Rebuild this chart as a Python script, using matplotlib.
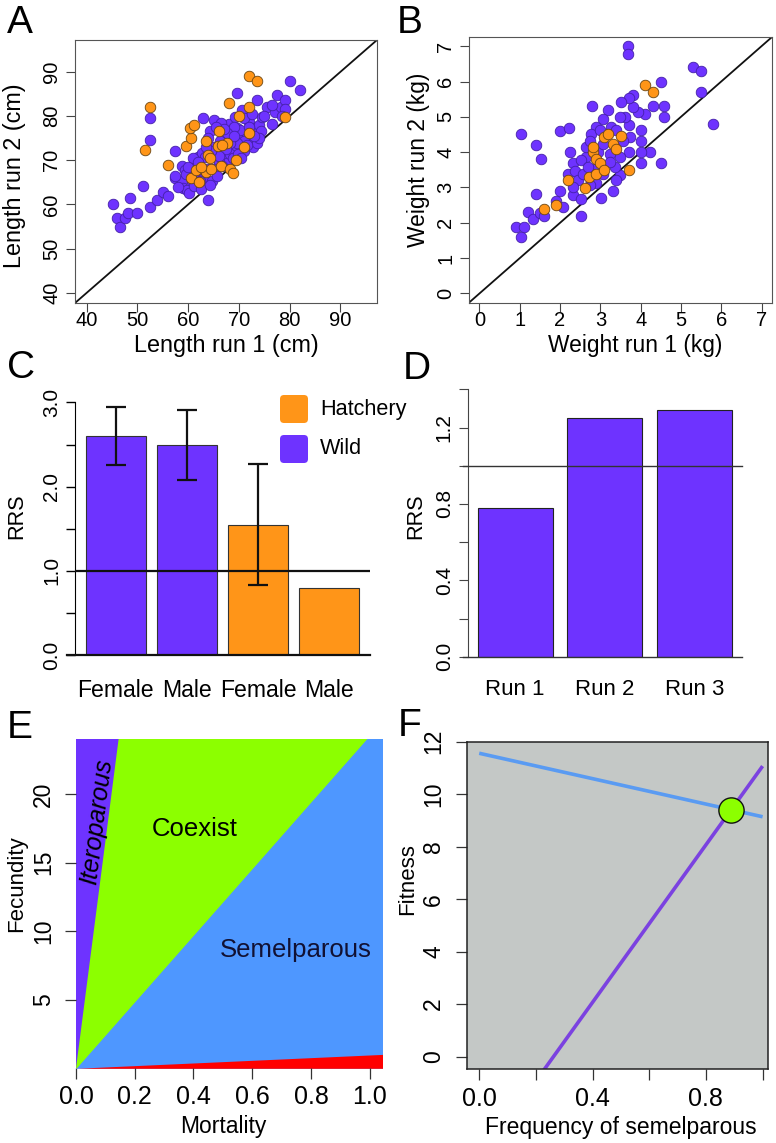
import numpy as np
import matplotlib
matplotlib.use("Agg")
import matplotlib.pyplot as plt
from matplotlib.patches import FancyBboxPatch

plt.rcParams['font.family'] = ['Liberation Sans', 'DejaVu Sans']

# ---- colours ----
PURPLE = '#6E33FF'
PURPLE_EDGE = '#4420A8'
ORANGE = '#FF9518'
ORANGE_EDGE = '#6B4512'
GREEN = '#8CFF00'
BLUE = '#4E97FF'
RED = '#FF0000'
GREY_BG = '#C4C8C6'

# ---- panel A: body length, run 1 vs run 2 (cm) ----
a_wild_x = [45.1, 45.9, 46.6, 47.6, 48.6, 48.2, 50.0, 51.0, 52.5, 52.5, 52.5, 53.9, 55.0, 56.0,
            57.4, 57.4, 58.8, 58.8, 58.9, 59.7, 59.4, 60.7, 61.1, 62.0, 62.7, 63.0, 63.2, 64.0,
            64.7, 65.0, 64.3, 65.0, 65.7, 66.3, 67.0, 67.6, 67.3, 68.0, 68.3, 68.6, 68.9, 69.3,
            69.7, 69.6, 70.3, 70.6, 70.9, 71.6, 71.9, 72.4, 72.8, 73.0, 73.6, 73.6, 73.9, 74.3,
            74.5, 75.5, 76.5, 77.5, 77.2, 78.2, 79.1, 79.1, 80.0, 82.1,
            66.0, 66.6, 68.2, 68.9, 69.9, 70.9, 69.6, 68.3, 70.3, 69.0, 67.6, 66.3, 65.0, 63.7,
            62.4, 61.1, 62.4, 65.7, 63.4, 60.2, 61.2, 59.5, 62.5, 64.2, 66.5, 67.0, 71.0, 72.5,
            74.0, 73.0, 71.5, 70.5, 67.5, 66.0, 64.5, 63.5, 61.0, 60.0, 58.0, 57.5, 62.0, 69.0,
            72.0, 75.0, 76.5, 78.5, 64.0, 65.5]
a_wild_y = [60.2, 56.9, 54.9, 56.9, 61.4, 58.0, 58.0, 64.1, 79.5, 74.6, 59.4, 61.1, 62.9, 62.0,
            72.2, 65.9, 65.2, 68.6, 63.7, 63.3, 67.8, 65.2, 69.3, 70.8, 71.6, 79.5, 66.3, 61.1,
            65.2, 79.1, 76.5, 73.1, 70.8, 72.3, 70.8, 69.3, 75.0, 78.3, 76.5, 74.6, 73.1, 79.8,
            85.1, 77.2, 75.3, 81.4, 72.0, 76.1, 78.7, 74.6, 73.1, 77.2, 83.6, 73.8, 78.0, 76.5,
            79.8, 82.1, 78.3, 84.7, 81.0, 82.1, 83.6, 81.7, 87.9, 85.9,
            69.5, 68.8, 71.3, 70.6, 71.3, 74.4, 73.8, 73.8, 76.8, 77.6, 76.1, 74.4, 68.0, 68.0,
            68.0, 66.5, 65.2, 66.5, 70.8, 62.5, 64.1, 66.8, 63.5, 64.5, 78.5, 77.0, 79.5, 80.5,
            75.0, 75.5, 73.5, 70.5, 72.5, 71.0, 72.0, 73.0, 70.5, 68.5, 64.0, 66.5, 69.5, 75.5,
            77.5, 80.0, 82.5, 80.0, 75.0, 77.5]
a_hat_x = [71.9, 73.6, 52.5, 51.4, 56.1, 59.5, 60.5, 60.3, 61.1, 60.6, 62.2, 61.6, 63.5, 63.9,
           63.6, 64.5, 66.0, 65.8, 67.6, 66.4, 68.0, 68.2, 68.8, 69.5, 70.0, 71.0, 72.0, 72.0,
           79.0, 66.6, 62.6, 64.2]
a_hat_y = [89.0, 88.0, 82.0, 72.3, 68.9, 73.3, 75.0, 77.2, 78.0, 65.9, 65.0, 67.8, 74.4, 71.2,
           67.4, 68.0, 76.5, 73.2, 74.0, 68.6, 83.0, 68.0, 67.2, 70.1, 80.0, 73.1, 82.0, 76.1,
           79.8, 73.5, 68.5, 70.6]

# ---- panel B: body weight, run 1 vs run 2 (kg) ----
b_wild_x = [3.69, 3.69, 5.29, 5.50, 5.50, 5.79, 4.51, 4.59, 4.59, 4.30, 4.51, 4.22, 4.01, 4.01,
            4.01, 4.01, 4.10, 3.93, 3.81, 3.81, 3.71, 3.71, 3.73, 3.71, 3.60, 3.50, 3.48, 3.48,
            3.40, 3.31, 3.01, 2.90, 2.80, 3.20, 3.07, 2.90, 2.78, 2.98, 2.24, 2.00, 2.22, 2.31,
            2.20, 2.37, 2.31, 2.51, 2.51, 2.01, 1.91, 1.40, 1.40, 1.52, 1.02, 0.91, 1.11, 1.02,
            1.21, 1.32, 1.50, 1.60, 2.65, 2.53, 2.65, 2.74, 2.86, 2.74, 2.94, 3.07, 3.23, 3.27,
            3.40, 3.56, 3.48, 3.36, 3.23, 3.07, 2.45, 2.57, 2.70, 2.32, 2.08]
b_wild_y = [7.00, 6.79, 6.40, 6.29, 5.70, 4.80, 6.00, 5.30, 5.00, 5.30, 3.70, 4.00, 3.69, 4.00,
            4.33, 4.62, 5.09, 5.14, 5.61, 5.28, 5.52, 4.00, 4.43, 4.76, 5.00, 5.42, 5.00, 3.34,
            3.20, 2.91, 2.71, 3.12, 5.30, 5.20, 4.95, 4.71, 4.52, 4.62, 4.00, 4.60, 4.69, 3.69,
            3.39, 3.48, 2.80, 2.68, 2.20, 2.90, 2.63, 2.82, 4.21, 3.81, 4.50, 1.89, 1.89, 1.59,
            2.30, 2.11, 2.27, 2.20, 3.86, 3.77, 4.14, 4.33, 3.53, 3.06, 4.00, 4.24, 3.95, 4.71,
            4.62, 4.33, 3.86, 3.58, 3.72, 3.39, 3.20, 3.39, 3.58, 3.00, 2.44]
b_hat_x = [4.10, 4.30, 1.61, 1.91, 2.20, 2.61, 2.72, 2.82, 2.82, 2.90, 2.90, 3.00, 3.10, 3.10,
           3.20, 3.31, 3.40, 3.50, 3.70]
b_hat_y = [5.91, 5.70, 2.39, 2.51, 3.20, 2.99, 3.29, 4.00, 4.14, 3.39, 3.81, 3.69, 3.50, 4.43,
           4.50, 4.24, 4.10, 4.47, 3.50]

# ---- panel C: RRS by sex and origin ----
c_labels = ['Female', 'Male', 'Female', 'Male']
c_rrs = [2.60, 2.49, 1.55, 0.80]
c_low = [2.26, 2.08, 0.83]
c_high = [2.94, 2.91, 2.27]
c_colors = [PURPLE, PURPLE, ORANGE, ORANGE]

# ---- panel D: RRS by run ----
d_labels = ['Run 1', 'Run 2', 'Run 3']
d_rrs = [0.78, 1.25, 1.29]

# ---- panel E: model regions (boundary fecundity at each mortality) ----
e_mort = [0.0, 1.05]
e_itero_bound = [0.0, 173.8]
e_coexist_bound = [0.0, 25.5]
e_red_bound = [0.0, 1.02]

# ---- panel F: fitness vs frequency of semelparous ----
f_freq = [0.0, 1.0]
f_fit_itero = [11.56, 9.14]
f_fit_semel = [-3.93, 11.07]
f_eq_x = [0.889]
f_eq_y = [9.41]

W, H = 776, 1143
fig = plt.figure(figsize=(W / 100, H / 100), dpi=100)


def px_axes(left, top, right, bottom):
    return fig.add_axes([left / W, 1 - bottom / H, (right - left) / W, (bottom - top) / H])


def rotate_yticks(ax):
    for lab in ax.get_yticklabels():
        lab.set_rotation(90)
        lab.set_va('center')


def letter(x, y, s):
    fig.text(x / W, 1 - y / H, s, fontsize=28, ha='left', va='baseline')


# ---------------- A ----------------
ax = px_axes(75, 40, 377, 303)
ax.axline((0, 0), slope=1, color='#111111', lw=1.3, zorder=1)
ax.scatter(a_wild_x, a_wild_y, s=58, c=PURPLE, edgecolors=PURPLE_EDGE, linewidths=0.6, zorder=2)
ax.scatter(a_hat_x, a_hat_y, s=58, c=ORANGE, edgecolors=ORANGE_EDGE, linewidths=0.6, zorder=3)
ax.set_xlim(37.7, 97.2)
ax.set_ylim(37.7, 97.2)
ax.set_xticks(np.arange(40, 100, 10))
ax.set_yticks(np.arange(40, 100, 10))
ax.tick_params(length=6.5, width=0.8, labelsize=14.5, color='#444444')
ax.tick_params(axis='x', pad=-1)
ax.tick_params(axis='y', pad=3.5)
rotate_yticks(ax)
for sp in ax.spines.values():
    sp.set_color('#555555')
ax.set_xlabel('Length run 1 (cm)', fontsize=16.8, va='center')
ax.xaxis.set_label_coords(0.5, -0.16)
ax.set_ylabel('Length run 2 (cm)', fontsize=16.8, va='center', ha='center')
ax.yaxis.set_label_coords(-0.199, 0.485)

# ---------------- B ----------------
ax = px_axes(469, 37, 772, 303)
ax.axline((0, 0), slope=1, color='#111111', lw=1.3, zorder=1)
ax.scatter(b_wild_x, b_wild_y, s=58, c=PURPLE, edgecolors=PURPLE_EDGE, linewidths=0.6, zorder=2)
ax.scatter(b_hat_x, b_hat_y, s=58, c=ORANGE, edgecolors=ORANGE_EDGE, linewidths=0.6, zorder=3)
ax.set_xlim(-0.26, 7.26)
ax.set_ylim(-0.27, 7.26)
ax.set_xticks(np.arange(0, 8))
ax.set_yticks(np.arange(0, 8))
ax.tick_params(length=6.5, width=0.8, labelsize=14.5, color='#444444')
ax.tick_params(axis='x', pad=-1)
ax.tick_params(axis='y', pad=3.5)
rotate_yticks(ax)
for sp in ax.spines.values():
    sp.set_color('#555555')
ax.set_xlabel('Weight run 1 (kg)', fontsize=16.4, va='center')
ax.xaxis.set_label_coords(0.547, -0.158)
ax.set_ylabel('Weight run 2 (kg)', fontsize=16.4, va='center', ha='center')
ax.yaxis.set_label_coords(-0.168, 0.538)

# ---------------- C ----------------
ax = px_axes(75, 394, 370, 655)
c_pos = np.arange(1, len(c_rrs) + 1)
ax.bar(c_pos, c_rrs, width=0.84, color=c_colors, edgecolor='#333333', lw=0.8, zorder=2)
c_err = [np.array(c_rrs[:3]) - np.array(c_low), np.array(c_high) - np.array(c_rrs[:3])]
ax.errorbar(c_pos[:3], c_rrs[:3], yerr=c_err, fmt='none', ecolor='#111111',
            elinewidth=1.6, capsize=7.5, capthick=1.6, zorder=4)
ax.axhline(1.0, color='#111111', lw=1.6, zorder=3)
ax.axhline(0.0, xmin=-0.027, color='#111111', lw=1.6, zorder=3, clip_on=False)
ax.set_xlim(0.424, 4.577)
ax.set_ylim(0, 3.1)
for side in ['top', 'right', 'bottom']:
    ax.spines[side].set_visible(False)
ax.spines['left'].set_bounds(0, 3)
ax.set_yticks(np.arange(0, 3.01, 0.5))
ax.set_yticklabels(['0.0', '', '1.0', '', '2.0', '', '3.0'])
ax.tick_params(axis='y', length=6.5, width=1, labelsize=15, pad=3.5)
rotate_yticks(ax)
ax.set_xticks(c_pos)
ax.set_xticklabels(c_labels)
ax.tick_params(axis='x', length=0, labelsize=16.6, pad=17)
ax.set_ylabel('RRS', fontsize=15.6, va='center', ha='center')
ax.yaxis.set_label_coords(-0.197, 0.533)

# legend drawn in pixel space so the squares stay square
for i, (lab, col) in enumerate([('Hatchery', ORANGE), ('Wild', PURPLE)]):
    cy = 409 + 40 * i
    fig.patches.append(FancyBboxPatch((280 / 100, (H - cy - 14) / 100), 0.28, 0.28,
                                      boxstyle='round,pad=0,rounding_size=0.04',
                                      facecolor=col, edgecolor='none',
                                      transform=fig.dpi_scale_trans, figure=fig))
    fig.text(320 / W, 1 - cy / H, lab, fontsize=15.6, ha='left', va='center')

# ---------------- D ----------------
ax = px_axes(467.7, 385.5, 742.3, 656.7)
d_pos = np.arange(1, len(d_rrs) + 1)
ax.bar(d_pos, d_rrs, width=0.836, color=PURPLE, edgecolor='#222222', lw=0.8, zorder=2)
ax.axhline(1.0, xmin=-0.018, color='#333333', lw=1.0, zorder=3, clip_on=False)
ax.axhline(0.0, xmin=-0.018, color='#333333', lw=1.0, zorder=3, clip_on=False)
ax.set_xlim(0.47, 3.533)
ax.set_ylim(0, 1.42)
for side in ['top', 'right', 'bottom']:
    ax.spines[side].set_visible(False)
ax.spines['left'].set_bounds(0, 1.4)
ax.spines['left'].set_color('#444444')
ax.set_yticks(np.arange(0, 1.41, 0.2))
ax.set_yticklabels(['0.0', '', '0.4', '', '0.8', '', '1.2', ''])
ax.tick_params(axis='y', length=6.5, width=0.8, labelsize=15, pad=3.5, color='#444444')
rotate_yticks(ax)
ax.set_xticks(d_pos)
ax.set_xticklabels(d_labels)
ax.tick_params(axis='x', length=0, labelsize=16, pad=16)
ax.set_ylabel('RRS', fontsize=15.6, va='center', ha='center')
ax.yaxis.set_label_coords(-0.188, 0.519)

# ---------------- E ----------------
ax = px_axes(76, 739.3, 382.3, 1068.3)
top = [30, 30]
# layered fills (each from the floor up) so no seams show between regions
ax.fill_between(e_mort, 0, top, color=PURPLE, lw=0)
ax.fill_between(e_mort, 0, e_itero_bound, color=GREEN, lw=0)
ax.fill_between(e_mort, 0, e_coexist_bound, color=BLUE, lw=0)
ax.fill_between(e_mort, 0, e_red_bound, color=RED, lw=0)
ax.set_xlim(0, 1.043)
ax.set_ylim(0, 24)
for sp in ax.spines.values():
    sp.set_visible(False)
ax.set_xticks(np.arange(0, 1.01, 0.2))
ax.set_xticklabels(['0.0', '0.2', '0.4', '0.6', '0.8', '1.0'])
ax.set_yticks([5, 10, 15, 20])
ax.tick_params(length=8, width=0.9, color='#333333')
ax.tick_params(axis='x', labelsize=18, pad=4)
ax.tick_params(axis='y', labelsize=16.5, pad=7)
rotate_yticks(ax)
ax.text(0.07, 18.0, 'Iteroparous', rotation=83, style='italic', fontsize=18,
        ha='center', va='center')
ax.text(0.403, 17.45, 'Coexist', fontsize=18.5, ha='center', va='center')
ax.text(0.75, 8.6, 'Semelparous', fontsize=18.5, ha='center', va='center', color='#111133')
ax.set_xlabel('Mortality', fontsize=16.5, va='center')
ax.xaxis.set_label_coords(0.48, -0.178)
ax.set_ylabel('Fecundity', fontsize=16, va='center', ha='center')
ax.yaxis.set_label_coords(-0.194, 0.56)

# ---------------- F ----------------
ax = px_axes(467.3, 741.7, 767.7, 1069)
ax.set_facecolor(GREY_BG)
ax.plot(f_freq, f_fit_itero, color='#5A9BF2', lw=2.6, solid_capstyle='butt')
ax.plot(f_freq, f_fit_semel, color='#7B42E0', lw=2.6, solid_capstyle='butt')
ax.scatter(f_eq_x, f_eq_y, s=330, c=GREEN, edgecolors='#111111', linewidths=1, zorder=5)
ax.set_xlim(-0.042, 1.018)
ax.set_ylim(-0.47, 12.0)
for sp in ax.spines.values():
    sp.set_color('#222222')
    sp.set_linewidth(1.1)
ax.set_xticks(np.arange(0, 1.01, 0.2))
ax.set_xticklabels(['0.0', '', '0.4', '', '0.8', ''])
ax.set_yticks(np.arange(0, 12.1, 2))
ax.tick_params(length=8, width=0.9, color='#333333')
ax.tick_params(axis='x', labelsize=18, pad=5)
ax.tick_params(axis='y', labelsize=16.5, pad=8)
rotate_yticks(ax)
ax.set_xlabel('Frequency of semelparous', fontsize=16.5, va='center')
ax.xaxis.set_label_coords(0.51, -0.178)
ax.set_ylabel('Fitness', fontsize=16, va='center', ha='center')
ax.yaxis.set_label_coords(-0.197, 0.58)

# panel letters
letter(7, 33, 'A')
letter(397, 33, 'B')
letter(7, 378, 'C')
letter(403, 379, 'D')
letter(7, 738, 'E')
letter(398, 736, 'F')

fig.savefig('out.png', dpi=100)
